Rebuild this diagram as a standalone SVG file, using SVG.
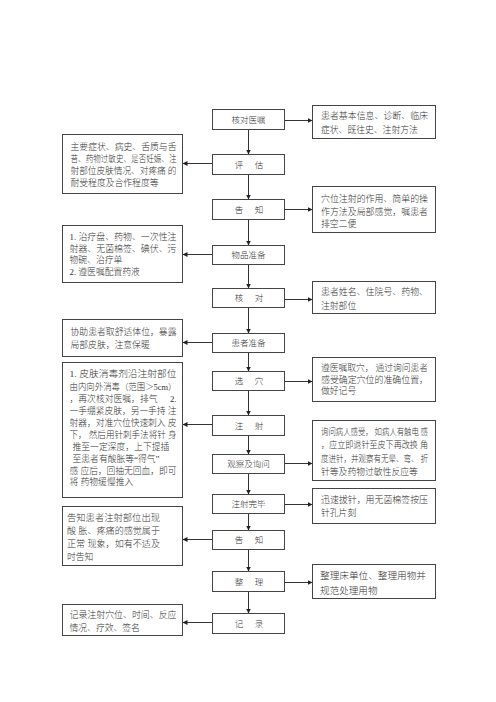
<svg xmlns="http://www.w3.org/2000/svg" width="496" height="702" viewBox="0 0 496 702">
<style>
.box{fill:#fff;stroke:#444;stroke-width:1}
.lbl{font-family:"Liberation Serif","Noto Sans CJK SC",serif;font-size:8.5px;font-weight:300;fill:#333;text-anchor:middle;dominant-baseline:central}
.t{font-family:"Liberation Serif","Noto Sans CJK SC",serif;font-size:8.8px;font-weight:300;fill:#333;dominant-baseline:central}
.conn line{stroke:#333;stroke-width:1;fill:none}
</style>
<defs>
<marker id="ah" markerWidth="6" markerHeight="6" refX="5" refY="2.5" orient="auto" markerUnits="userSpaceOnUse"><path d="M0,0 L5,2.5 L0,5 z" fill="#222"/></marker>
</defs>
<rect width="496" height="702" fill="#fff"/>

<g class="conn">
<line x1="248.5" y1="129.5" x2="248.5" y2="154.5" marker-end="url(#ah)"/>
<line x1="248.5" y1="174.5" x2="248.5" y2="199.5" marker-end="url(#ah)"/>
<line x1="248.5" y1="219.5" x2="248.5" y2="245.5" marker-end="url(#ah)"/>
<line x1="248.5" y1="264.5" x2="248.5" y2="288.5" marker-end="url(#ah)"/>
<line x1="248.5" y1="307.5" x2="248.5" y2="333.5" marker-end="url(#ah)"/>
<line x1="248.5" y1="352.5" x2="248.5" y2="371.5" marker-end="url(#ah)"/>
<line x1="248.5" y1="390.5" x2="248.5" y2="415.5" marker-end="url(#ah)"/>
<line x1="248.5" y1="435.5" x2="248.5" y2="454.5" marker-end="url(#ah)"/>
<line x1="248.5" y1="473.5" x2="248.5" y2="494.5" marker-end="url(#ah)"/>
<line x1="248.5" y1="513.5" x2="248.5" y2="530.5" marker-end="url(#ah)"/>
<line x1="248.5" y1="549.5" x2="248.5" y2="571.5" marker-end="url(#ah)"/>
<line x1="248.5" y1="591.5" x2="248.5" y2="613.5" marker-end="url(#ah)"/>
<line x1="284.5" y1="120.5" x2="312.5" y2="120.5" marker-end="url(#ah)"/>
<line x1="284.5" y1="209.5" x2="312.5" y2="209.5" marker-end="url(#ah)"/>
<line x1="284.5" y1="299.5" x2="312.5" y2="299.5" marker-end="url(#ah)"/>
<line x1="284.5" y1="381.5" x2="312.5" y2="381.5" marker-end="url(#ah)"/>
<line x1="284.5" y1="463.5" x2="312.5" y2="463.5" marker-end="url(#ah)"/>
<line x1="284.5" y1="504.5" x2="312.5" y2="504.5" marker-end="url(#ah)"/>
<line x1="284.5" y1="582.5" x2="312.5" y2="582.5" marker-end="url(#ah)"/>
<line x1="212.5" y1="163.5" x2="182.5" y2="163.5" marker-end="url(#ah)"/>
<line x1="212.5" y1="254.5" x2="182.5" y2="254.5" marker-end="url(#ah)"/>
<line x1="212.5" y1="342.5" x2="182.5" y2="342.5" marker-end="url(#ah)"/>
<line x1="212.5" y1="424.5" x2="182.5" y2="424.5" marker-end="url(#ah)"/>
<line x1="212.5" y1="539.5" x2="182.5" y2="539.5" marker-end="url(#ah)"/>
<line x1="212.5" y1="622.5" x2="182.5" y2="622.5" marker-end="url(#ah)"/>
</g>

<g id="n1"><rect class="box" x="212.5" y="109.5" width="72" height="20"/><text class="lbl" x="248.5" y="119.5">核对医嘱</text></g>
<g id="n2"><rect class="box" x="212.5" y="154.5" width="72" height="20"/><text class="lbl" x="239 259" y="164.5">评估</text></g>
<g id="n3"><rect class="box" x="212.5" y="199.5" width="72" height="20"/><text class="lbl" x="239 259" y="209.5">告知</text></g>
<g id="n4"><rect class="box" x="212.5" y="245.5" width="72" height="19"/><text class="lbl" x="248.5" y="255">物品准备</text></g>
<g id="n5"><rect class="box" x="212.5" y="288.5" width="72" height="19"/><text class="lbl" x="239 259" y="298">核对</text></g>
<g id="n6"><rect class="box" x="212.5" y="333.5" width="72" height="19"/><text class="lbl" x="248.5" y="343">患者准备</text></g>
<g id="n7"><rect class="box" x="212.5" y="371.5" width="72" height="19"/><text class="lbl" x="239 259" y="381">选穴</text></g>
<g id="n8"><rect class="box" x="212.5" y="415.5" width="72" height="20"/><text class="lbl" x="239 259" y="425.5">注射</text></g>
<g id="n9"><rect class="box" x="212.5" y="454.5" width="72" height="19"/><text class="lbl" x="248.5" y="464">观察及询问</text></g>
<g id="n10"><rect class="box" x="212.5" y="494.5" width="72" height="19"/><text class="lbl" x="248.5" y="504">注射完毕</text></g>
<g id="n11"><rect class="box" x="212.5" y="530.5" width="72" height="19"/><text class="lbl" x="239 259" y="540">告知</text></g>
<g id="n12"><rect class="box" x="212.5" y="571.5" width="72" height="20"/><text class="lbl" x="239 259" y="581.5">整理</text></g>
<g id="n13"><rect class="box" x="212.5" y="613.5" width="72" height="20"/><text class="lbl" x="239 259" y="623.5">记录</text></g>

<g id="r1"><rect class="box" x="312.5" y="105.5" width="123" height="33"/>
<text class="t" x="321" y="116" textLength="107" lengthAdjust="spacingAndGlyphs">患者基本信息、诊断、临床</text>
<text class="t" x="321" y="130">症状、既往史、注射方法</text></g>
<g id="r2"><rect class="box" x="312.5" y="186.5" width="123" height="46"/>
<text class="t" x="321" y="199" textLength="107" lengthAdjust="spacingAndGlyphs">穴位注射的作用、简单的操</text>
<text class="t" x="321" y="211.5" textLength="107" lengthAdjust="spacingAndGlyphs">作方法及局部感觉，嘱患者</text>
<text class="t" x="321" y="224">排空二便</text></g>
<g id="r3"><rect class="box" x="312.5" y="281.5" width="123" height="32"/>
<text class="t" x="321" y="292" textLength="107" lengthAdjust="spacingAndGlyphs">患者姓名、住院号、药物、</text>
<text class="t" x="321" y="306">注射部位</text></g>
<g id="r4"><rect class="box" x="312.5" y="357.5" width="123" height="44"/>
<text class="t" x="321" y="368" textLength="107" lengthAdjust="spacingAndGlyphs">遵医嘱取穴， 通过询问患者</text>
<text class="t" x="321" y="379.5" textLength="107" lengthAdjust="spacingAndGlyphs">感受确定穴位的准确位置，</text>
<text class="t" x="321" y="391">做好记号</text></g>
<g id="r5"><rect class="box" x="312.5" y="420.5" width="123" height="60"/>
<text class="t" x="321" y="432" textLength="107" lengthAdjust="spacingAndGlyphs">询问病人感受， 如病人有触电 感</text>
<text class="t" x="321" y="445" textLength="107" lengthAdjust="spacingAndGlyphs">，应立即退针至皮下再改换 角</text>
<text class="t" x="321" y="459" textLength="107" lengthAdjust="spacingAndGlyphs">度进针，并观察有无晕、弯、 折</text>
<text class="t" x="321" y="472">针等及药物过敏性反应等</text></g>
<g id="r6"><rect class="box" x="312.5" y="488.5" width="123" height="35"/>
<text class="t" x="321" y="500" textLength="107" lengthAdjust="spacingAndGlyphs">迅速拔针，用无菌棉签按压</text>
<text class="t" x="321" y="513">针孔片刻</text></g>
<g id="r7"><rect class="box" x="312.5" y="564.5" width="123" height="34"/>
<text class="t" x="320" y="575" style="font-size:9.6px" textLength="106" lengthAdjust="spacingAndGlyphs">整理床单位、整理用物并</text>
<text class="t" x="320" y="590" style="font-size:9.6px">规范处理用物</text></g>

<g id="l1"><rect class="box" x="62.5" y="134.5" width="120" height="59"/>
<text class="t" x="70.5" y="147" textLength="106" lengthAdjust="spacingAndGlyphs">主要症状、病史、舌质与舌</text>
<text class="t" x="70.5" y="159" textLength="106" lengthAdjust="spacingAndGlyphs">苔、药物过敏史、是否妊娠、注</text>
<text class="t" x="70.5" y="171" textLength="106" lengthAdjust="spacingAndGlyphs">射部位皮肤情况、对疼痛 的</text>
<text class="t" x="70.5" y="183">耐受程度及合作程度等</text></g>
<g id="l2"><rect class="box" x="62.5" y="225.5" width="120" height="57"/>
<text class="t" x="69.5" y="237" textLength="107" lengthAdjust="spacingAndGlyphs">1. 治疗盘、药物、一次性注</text>
<text class="t" x="69.5" y="248.5" textLength="107" lengthAdjust="spacingAndGlyphs">射器、无菌棉签、碘伏、污</text>
<text class="t" x="69.5" y="260">物碗、治疗单</text>
<text class="t" x="69.5" y="271.5">2. 遵医嘱配置药液</text></g>
<g id="l3"><rect class="box" x="62.5" y="319.5" width="120" height="37"/>
<text class="t" x="70.5" y="332" textLength="106" lengthAdjust="spacingAndGlyphs">协助患者取舒适体位，暴露</text>
<text class="t" x="70.5" y="344.5">局部皮肤，注意保暖</text></g>
<g id="l4"><rect class="box" x="62.5" y="362.5" width="120" height="135"/>
<text class="t" x="69.5" y="374" textLength="107" lengthAdjust="spacingAndGlyphs">1.  皮肤消毒剂沿注射部位</text>
<text class="t" x="69.5" y="387" textLength="107" lengthAdjust="spacingAndGlyphs">由内向外消毒（范围＞5cm）</text>
<text class="t" x="69.5" y="399">，再次核对医嘱，排气</text>
<text class="t" x="176.5" y="399" style="text-anchor:end">2.</text>
<text class="t" x="69.5" y="411" textLength="107" lengthAdjust="spacingAndGlyphs">一手绷紧皮肤，另一手持 注</text>
<text class="t" x="69.5" y="423" textLength="107" lengthAdjust="spacingAndGlyphs">射器，对准穴位快速刺入 皮</text>
<text class="t" x="69.5" y="435" textLength="107" lengthAdjust="spacingAndGlyphs">下， 然后用针刺手法将针 身</text>
<text class="t" x="72.5" y="447">推至一定深度，上下提插</text>
<text class="t" x="72.5" y="459">至患者有酸胀等“得气”</text>
<text class="t" x="69.5" y="470.5" textLength="107" lengthAdjust="spacingAndGlyphs">感 应后，回抽无回血，即可</text>
<text class="t" x="69.5" y="482">将 药物缓慢推入</text></g>
<g id="l5"><rect class="box" x="62.5" y="506.5" width="120" height="59"/>
<text class="t" x="67" y="518" textLength="93" lengthAdjust="spacingAndGlyphs">告知患者注射部位出现</text>
<text class="t" x="67" y="531" textLength="93" lengthAdjust="spacingAndGlyphs">酸 胀、疼痛的感觉属于</text>
<text class="t" x="67" y="544" textLength="93" lengthAdjust="spacingAndGlyphs">正常 现象，如有不适及</text>
<text class="t" x="67" y="557">时告知</text></g>
<g id="l6"><rect class="box" x="62.5" y="604.5" width="120" height="31"/>
<text class="t" x="69.5" y="615" textLength="107" lengthAdjust="spacingAndGlyphs">记录注射穴位、时间、反应</text>
<text class="t" x="69.5" y="628">情况、疗效、签名</text></g>
</svg>
